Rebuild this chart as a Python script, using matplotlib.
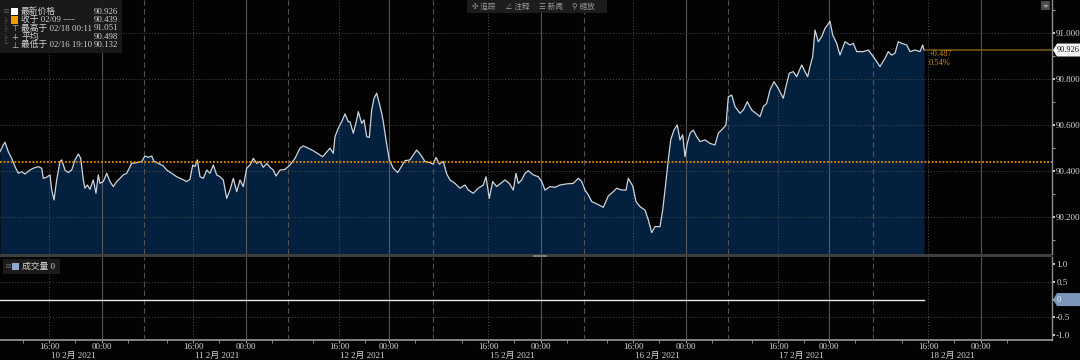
import numpy as np
import matplotlib
matplotlib.use('Agg')
import matplotlib.pyplot as plt
from matplotlib.patches import Rectangle, Polygon
import matplotlib.transforms as mtransforms

plt.rcParams['font.family'] = ['Noto Sans CJK SC', 'DejaVu Sans']

# ---------------- data ----------------
# time position on the (compressed) trading-time axis, ~9 minutes per unit
t = [0, 3.3, 5, 8.3, 11.7, 15, 18.3, 21.7, 25, 30, 33.3, 38.3, 41.7, 43.3, 46.7, 50, 51.7, 54, 56.7, 60,
     61.7, 65, 68.3, 71.7, 75, 78.3, 80.7, 83.3, 85, 87.3, 90, 93.3, 96, 98.3, 100, 103.3, 106.7, 110, 113.3, 116.7,
     120, 123.3, 126.7, 131.7, 136.7, 141.7, 145, 148.3, 151.7, 154, 158.3, 163.3, 166.7, 171.7, 176.7, 181.7, 186.7, 190, 192.7, 195,
     197.3, 200, 203.3, 206.7, 210, 213.3, 216.7, 220, 223.3, 226.7, 230, 233.3, 236.7, 240, 243.3, 246.7, 250, 253.3, 256.7, 260,
     263.3, 266.7, 270, 273.3, 276, 280, 285, 290, 295, 300, 303.3, 308.3, 313.3, 318.3, 322.7, 325, 330, 333.3, 335, 338.3,
     341.7, 345, 348.3, 350, 353.3, 356.7, 358.3, 361.7, 364, 366.7, 369.3, 371.7, 374, 376.7, 379.3, 381.7, 383.3, 386, 389.3, 393.3,
     397.7, 401.7, 405, 410, 413.3, 416.7, 420.7, 425, 430, 433.3, 436, 439.3, 443.3, 446.7, 450, 455, 460, 465, 468.3, 473.3,
     478.3, 483.3, 486, 489.3, 492.7, 496.7, 500.7, 505, 509.3, 513.3, 516, 518.3, 521.7, 525, 528.3, 533.3, 538.3, 541.7, 545, 550,
     555, 560, 566.7, 573.3, 578.3, 581.7, 585, 588.3, 591.7, 596.7, 603.3, 608.3, 613.3, 616.7, 621.7, 626, 628.3, 632.7, 636, 640,
     645, 648.3, 651.7, 655, 660, 662.7, 665, 668.3, 670.7, 674, 677.3, 680, 682.7, 685, 687.3, 690, 693.3, 696.7, 700, 705,
     710, 715, 718.3, 723.3, 726, 728.3, 731.7, 735, 740, 743.3, 747.3, 751.7, 756.7, 760, 763.3, 766.7, 770, 774, 778.3, 783.3,
     786.7, 789.3, 793.3, 796.7, 801.7, 805, 807.7, 810, 812.7, 815, 818.3, 821.7, 825, 830, 832.7, 836.7, 840, 845, 850, 853.3,
     856.7, 863.3, 868.3, 873.3, 880, 885, 888.3, 891.7, 895, 898.3, 901.7, 906.7, 910, 915, 920, 922.7, 924]

price = [90.484, 90.513, 90.525, 90.484, 90.455, 90.419, 90.390, 90.397, 90.387, 90.404, 90.412, 90.419, 90.412, 90.368, 90.373, 90.383, 90.317, 90.274, 90.361, 90.441,
         90.448, 90.404, 90.393, 90.404, 90.448, 90.474, 90.455, 90.361, 90.325, 90.339, 90.320, 90.361, 90.303, 90.383, 90.346, 90.354, 90.390, 90.354, 90.332, 90.354,
         90.368, 90.383, 90.390, 90.433, 90.436, 90.441, 90.465, 90.459, 90.465, 90.441, 90.433, 90.422, 90.404, 90.390, 90.375, 90.365, 90.354, 90.364, 90.426, 90.419,
         90.448, 90.375, 90.368, 90.404, 90.390, 90.426, 90.383, 90.375, 90.361, 90.281, 90.317, 90.368, 90.310, 90.361, 90.332, 90.412, 90.426, 90.455, 90.433, 90.441,
         90.416, 90.433, 90.416, 90.404, 90.378, 90.404, 90.407, 90.426, 90.455, 90.499, 90.509, 90.499, 90.488, 90.474, 90.462, 90.474, 90.499, 90.477, 90.549, 90.586,
         90.614, 90.648, 90.614, 90.614, 90.564, 90.622, 90.658, 90.607, 90.622, 90.549, 90.546, 90.665, 90.716, 90.738, 90.694, 90.651, 90.614, 90.535, 90.448, 90.412,
         90.393, 90.422, 90.445, 90.448, 90.470, 90.491, 90.470, 90.441, 90.436, 90.430, 90.459, 90.430, 90.441, 90.387, 90.361, 90.346, 90.325, 90.339, 90.317, 90.303,
         90.325, 90.339, 90.375, 90.281, 90.354, 90.332, 90.346, 90.361, 90.346, 90.317, 90.390, 90.346, 90.361, 90.390, 90.401, 90.383, 90.375, 90.354, 90.317, 90.332,
         90.329, 90.339, 90.344, 90.346, 90.368, 90.354, 90.317, 90.296, 90.267, 90.257, 90.242, 90.291, 90.310, 90.325, 90.317, 90.317, 90.368, 90.335, 90.267, 90.245,
         90.230, 90.187, 90.132, 90.158, 90.158, 90.230, 90.317, 90.448, 90.535, 90.578, 90.600, 90.535, 90.557, 90.462, 90.520, 90.564, 90.578, 90.549, 90.528, 90.535,
         90.520, 90.513, 90.564, 90.586, 90.600, 90.723, 90.730, 90.680, 90.651, 90.665, 90.701, 90.665, 90.648, 90.636, 90.680, 90.694, 90.752, 90.788, 90.759, 90.716,
         90.781, 90.825, 90.832, 90.810, 90.861, 90.832, 90.810, 90.854, 90.897, 91.013, 90.962, 90.984, 91.020, 91.051, 90.991, 90.955, 90.904, 90.962, 90.948, 90.955,
         90.919, 90.919, 90.926, 90.897, 90.854, 90.890, 90.919, 90.904, 90.912, 90.962, 90.955, 90.948, 90.919, 90.926, 90.919, 90.948, 90.926]

volume = [0] * len(price)

prev_close = 90.439
last_price = 90.926
stat_high = 91.051
stat_avg = 90.498
stat_low = 90.132
change_txt = "+0.487"
pct_txt = "0.54%"

# x-axis structure (same units as t)
day_starts = [144, 288, 433, 584, 728, 873]
ticks_1600 = [49, 193, 339, 488, 633, 778, 928]
ticks_0000 = [102, 246, 389, 541, 686, 829, 981]
four_hours = 26
day_labels = ['10 2月 2021', '11 2月 2021', '12 2月 2021', '15 2月 2021',
              '16 2月 2021', '17 2月 2021', '18 2月 2021']
price_ticks = [90.2, 90.4, 90.6, 90.8, 91.0]
price_minor = [90.1, 90.3, 90.5, 90.7, 90.9, 91.1]
vol_ticks = [1.0, 0.5, 0.0, -0.5, -1.0]
vol_tick_labels = ['1.0', '0.5', '', '-0.5', '-1.0']

# ---------------- styling ----------------
BG = '#030303'
GRID = '#4c4c4c'
TXT = '#d4d4d4'
FILL = '#04203f'
LINE = '#cdd5de'
ORANGE = '#e38d00'
NUMFONT = ['Liberation Serif', 'Noto Sans CJK SC', 'DejaVu Sans']
W, H = 1080, 360
XMAX = 1052

fig = plt.figure(figsize=(W / 100, H / 100), dpi=100, facecolor=BG)
ax = fig.add_axes([0, 1 - 254 / H, XMAX / W, 254 / H])
axv = fig.add_axes([0, 1 - 340 / H, XMAX / W, 83 / H], sharex=ax)


def px(x, y):
    return (x / W, 1 - y / H)


def tag(axis, value, text, fc, tc):
    """Arrow-shaped value tag on the right axis edge."""
    yd = axis.transData.transform((0, value))[1]
    yc = yd / H  # figure fraction (dpi 100 -> pixels)
    x0, x1 = XMAX / W, 1.0
    hh = 6.5 / H
    poly = Polygon([(x0 + 1 / W, yc), (x0 + 5 / W, yc + hh), (x1, yc + hh), (x1, yc - hh),
                    (x0 + 5 / W, yc - hh)], closed=True, transform=fig.transFigure,
                   fc=fc, ec='none', zorder=20)
    fig.patches.append(poly)
    fig.text(x0 + 5 / W, yc, text, fontsize=6, color=tc, va='center', ha='left',
             family=NUMFONT, zorder=21)


for a in (ax, axv):
    a.set_facecolor(BG)
    for s in ('left', 'top', 'bottom'):
        a.spines[s].set_visible(False)
    a.spines['right'].set_color('#8c8c8c')
    a.spines['right'].set_linewidth(1.0)
    a.yaxis.tick_right()
    a.tick_params(axis='y', colors='#f0f0f0', labelcolor=TXT, labelsize=6.5,
                  length=2.5, width=1.2, pad=0.5, direction='out')
    for x in ticks_0000:
        a.axvline(x, color='#6a6a6a', lw=0.8, alpha=0.8, zorder=3)
    for x in day_starts:
        a.axvline(x, color='#5a5a5a', lw=0.8, ls=(0, (5, 3)), alpha=0.9, zorder=3)
    for x in ticks_1600:
        a.axvline(x, color='#5a5a5a', lw=0.7, ls=(0, (1, 2)), alpha=0.9, zorder=3)

# ---------- main panel ----------
y_lo, y_hi = 90.039, 91.1435
ax.set_xlim(0, XMAX)
ax.set_ylim(y_lo, y_hi)
for y in price_ticks:
    ax.axhline(y, color=GRID, lw=0.7, ls=(0, (1, 2)), zorder=3)
ax.fill_between(t, price, y_lo, color=FILL, lw=0, zorder=1)
ax.plot(t, price, color=LINE, lw=0.9, zorder=4)
ax.axhline(prev_close, color=ORANGE, lw=1.3, ls=(0, (1, 1)), zorder=5)
ax.hlines(last_price, t[-1], XMAX, color='#7e5b16', lw=1.1, zorder=5)

ax.set_yticks(price_ticks)
ax.set_yticklabels([f'{v:.3f}' for v in price_ticks], family=NUMFONT)
ax.set_yticks(price_minor, minor=True)
ax.tick_params(axis='y', which='minor', length=2, width=0.8, color='#9a9a9a')
ax.tick_params(axis='x', which='both', bottom=False, labelbottom=False)

ax.annotate(change_txt, xy=(t[-1], last_price), xytext=(3, -3), textcoords='offset points',
            ha='left', va='center', fontsize=6, color='#d08a10', zorder=6, family=NUMFONT)
ax.annotate(pct_txt, xy=(t[-1], last_price), xytext=(3, -9.5), textcoords='offset points',
            ha='left', va='center', fontsize=6, color='#d08a10', zorder=6, family=NUMFONT)

# ---------- volume panel ----------
axv.set_ylim(-1.14, 1.2)
for y in (0.5, -0.5):
    axv.axhline(y, color=GRID, lw=0.7, ls=(0, (1, 2)), zorder=2)
axv.plot(t, volume, color='#e8e8e8', lw=1.0, zorder=4)
axv.spines['bottom'].set_visible(True)
axv.spines['bottom'].set_color('#9a9a9a')
axv.spines['bottom'].set_linewidth(1.2)
axv.set_yticks(vol_ticks)
axv.set_yticklabels(vol_tick_labels, family=NUMFONT)

xt = sorted(ticks_1600 + ticks_0000)
axv.set_xticks(xt)
axv.set_xticklabels(['16:00' if x in ticks_1600 else '00:00' for x in xt], family=NUMFONT)
minor_x = sorted([a - four_hours for a in ticks_1600] + [a + four_hours for a in ticks_1600] +
                 [b + four_hours for b in ticks_0000])
axv.set_xticks(minor_x, minor=True)
axv.tick_params(axis='x', which='both', colors='#9a9a9a', labelcolor=TXT, labelsize=6.5,
                length=2, pad=0.5)
bt = mtransforms.blended_transform_factory(axv.transData, axv.transAxes)
for a16, a00, lab in zip(ticks_1600, ticks_0000, day_labels):
    axv.text((a16 + a00) / 2 - 2, -0.195, lab, transform=bt, ha='center', va='center',
             fontsize=6.5, color=TXT, family=NUMFONT)

# value tags on the right axis
tag(ax, last_price, f'{last_price:.3f}', '#f4f4f4', '#111111')
tag(axv, 0.0, '0', '#7c96bb', '#f0f0f0')

# ---------- decorations (figure-level) ----------
fig.patches.append(Rectangle(px(0, 257), XMAX / W, 3 / H, transform=fig.transFigure,
                             fc='#3e3e3e', ec='none', zorder=10))
fig.patches.append(Rectangle(px(533, 257), 14 / W, 2 / H, transform=fig.transFigure,
                             fc='#7a7a7a', ec='none', zorder=11))

# legend box (main)
fig.patches.append(Rectangle(px(0, 53), 122 / W, 53 / H, transform=fig.transFigure,
                             fc='#1b1b1b', ec='none', alpha=0.95, zorder=10))
rows = [11.5, 20, 28.5, 37, 45]
fig.patches.append(Rectangle(px(11, rows[0] + 3.5), 7 / W, 7 / H, transform=fig.transFigure,
                             fc='#ffffff', ec='none', zorder=11))
fig.patches.append(Rectangle(px(11, rows[1] + 3.5), 7 / W, 7 / H, transform=fig.transFigure,
                             fc='#f29a00', ec='none', zorder=11))
tree = ['⊟', '├', '├', '├', '└']
for y, s in zip(rows, tree):
    fig.text(*px(3, y), s, fontsize=4.5, color='#6a6a6a', va='center', ha='left', zorder=12,
             family=['DejaVu Sans'])
for y, s in zip(rows[2:], ['⊤', '+', '⊥']):
    fig.text(*px(11, y), s, fontsize=6, color='#bdbdbd', va='center', ha='left', zorder=12,
             family=['DejaVu Sans'])
labels = ['最新价格', '收于 02/09 ----', '最高于 02/18 00:11', '平均', '最低于 02/16 19:10']
values = [last_price, prev_close, stat_high, stat_avg, stat_low]
for y, lab, v in zip(rows, labels, values):
    fig.text(*px(21, y), lab, fontsize=6.3, color=TXT, va='center', ha='left', zorder=12,
             family=NUMFONT)
    fig.text(*px(118, y), f'{v:.3f}', fontsize=6.3, color=TXT, va='center', ha='right', zorder=12,
             family=NUMFONT)

# volume legend
fig.patches.append(Rectangle(px(3, 274), 57 / W, 15 / H, transform=fig.transFigure,
                             fc='#1b1b1b', ec='none', zorder=10))
fig.text(*px(5, 266.5), '⊟', fontsize=4.5, color='#7a7a7a', va='center', ha='left', zorder=12,
         family=['DejaVu Sans'])
fig.patches.append(Rectangle(px(12, 270), 7 / W, 7 / H, transform=fig.transFigure,
                             fc='#8fa9d2', ec='none', zorder=11))
fig.text(*px(22, 266.5), '成交量 0', fontsize=6.3, color=TXT, va='center', ha='left', zorder=12,
         family=NUMFONT)

# toolbar
fig.patches.append(Rectangle(px(467, 13), 140 / W, 13 / H, transform=fig.transFigure,
                             fc='#1c1c1c', ec='none', zorder=10))
for x, s in [(472, '✣ 追踪'), (505, '∠ 注释'), (539, '☰ 新闻'), (572, '⚲ 缩放')]:
    fig.text(*px(x, 6.5), s, fontsize=5.5, color='#9a9a9a', va='center', ha='left', zorder=12,
             family=['Noto Sans CJK SC', 'DejaVu Sans'])

# small icon at top right
fig.patches.append(Rectangle(px(1041, 10), 9 / W, 9 / H, transform=fig.transFigure,
                             fc='#4a4a4a', ec='none', zorder=10))
fig.text(*px(1045.5, 5.5), '≑', fontsize=5, color='#bbbbbb', va='center', ha='center', zorder=12,
         family=['DejaVu Sans'])

fig.savefig('out.png', dpi=100, facecolor=BG)
